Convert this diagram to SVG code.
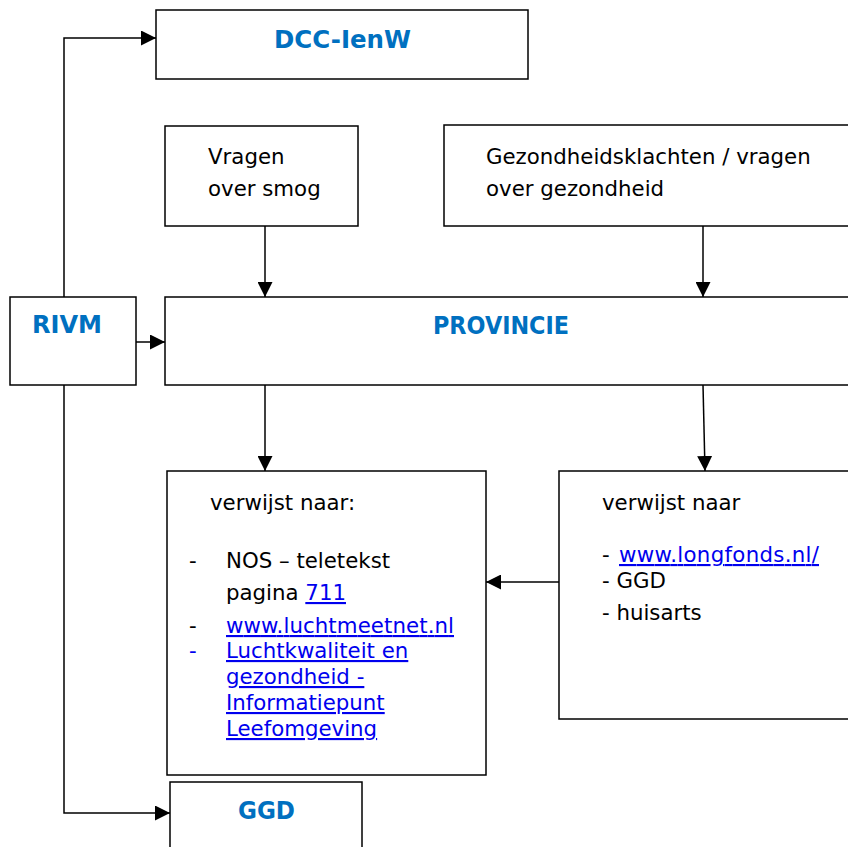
<svg xmlns="http://www.w3.org/2000/svg" width="848" height="847" viewBox="0 0 848 847">
<defs>
<style>
.box{fill:#fff;stroke:#000;stroke-width:1.5}
.t{font-family:"DejaVu Sans","Liberation Sans",sans-serif;font-size:21.3px;fill:#000}
.h{font-family:"DejaVu Sans","Liberation Sans",sans-serif;font-size:24px;font-weight:bold;fill:#0070C0}
.l{fill:#0000EE;text-decoration:underline}
.c{fill:none;stroke:#000;stroke-width:1.5}
</style>
<marker id="ah" markerUnits="userSpaceOnUse" markerWidth="16" markerHeight="15" refX="15" refY="7.5" orient="auto">
<path d="M0,0 L15,7.5 L0,15 z" fill="#000"/>
</marker>
</defs>
<rect width="848" height="847" fill="#fff"/>
<g id="dcc">
<rect class="box" x="156" y="10" width="372" height="69"/>
<text class="h" x="274" y="48" textLength="137" lengthAdjust="spacingAndGlyphs">DCC-IenW</text>
</g>
<g id="vragen">
<rect class="box" x="165" y="126" width="193" height="100"/>
<text class="t" x="208" y="164">Vragen</text>
<text class="t" x="208" y="196">over smog</text>
</g>
<g id="gezondheid">
<rect class="box" x="444" y="125" width="420" height="101"/>
<text class="t" x="486" y="164">Gezondheidsklachten / vragen</text>
<text class="t" x="486" y="196">over gezondheid</text>
</g>
<g id="rivm">
<rect class="box" x="10" y="297" width="126" height="88"/>
<text class="h" x="32" y="333" textLength="70" lengthAdjust="spacingAndGlyphs">RIVM</text>
</g>
<g id="provincie">
<rect class="box" x="165" y="297" width="700" height="88"/>
<text class="h" x="433" y="334" textLength="136" lengthAdjust="spacingAndGlyphs">PROVINCIE</text>
</g>
<g id="verwijst-links">
<rect class="box" x="167" y="471" width="319" height="304"/>
<text class="t" x="210" y="510">verwijst naar:</text>
<text class="t" x="189" y="568">-</text>
<text class="t" x="226" y="568">NOS – teletekst</text>
<text class="t" x="226" y="600">pagina <tspan class="l">711</tspan></text>
<text class="t" x="189" y="633">-</text>
<text class="t l" x="226" y="633" textLength="228">www.luchtmeetnet.nl</text>
<text class="t" x="189" y="658" style="fill:#0000EE">-</text>
<text class="t l" x="226" y="658">Luchtkwaliteit en</text>
<text class="t l" x="226" y="684">gezondheid -</text>
<text class="t l" x="226" y="710">Informatiepunt</text>
<text class="t l" x="226" y="736">Leefomgeving</text>
</g>
<g id="verwijst-rechts">
<rect class="box" x="559" y="471" width="310" height="248"/>
<text class="t" x="602" y="510">verwijst naar</text>
<text class="t" x="602" y="562">-</text>
<text class="t l" x="619" y="562" textLength="200">www.longfonds.nl/</text>
<text class="t" x="602" y="588">- GGD</text>
<text class="t" x="602" y="620">- huisarts</text>
</g>
<g id="ggd">
<rect class="box" x="170" y="782" width="192" height="80"/>
<text class="h" x="238" y="819" textLength="57" lengthAdjust="spacingAndGlyphs">GGD</text>
</g>
<g id="connectors">
<path class="c" d="M64,297 V38 H156" marker-end="url(#ah)"/>
<path class="c" d="M136,342 H165" marker-end="url(#ah)"/>
<path class="c" d="M64,385 V813 H170" marker-end="url(#ah)"/>
<path class="c" d="M265,226 V297" marker-end="url(#ah)"/>
<path class="c" d="M703,226 V297" marker-end="url(#ah)"/>
<path class="c" d="M265,385 V471" marker-end="url(#ah)"/>
<path class="c" d="M703,385 L705,471" marker-end="url(#ah)"/>
<path class="c" d="M559,582 H486" marker-end="url(#ah)"/>
</g>
</svg>
